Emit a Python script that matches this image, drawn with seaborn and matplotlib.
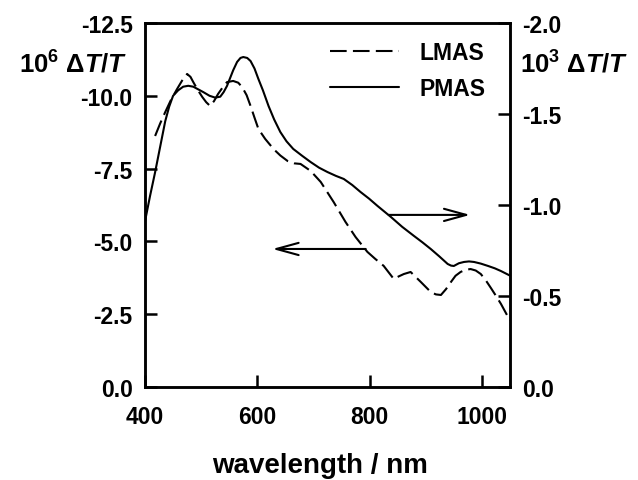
import matplotlib
matplotlib.use("Agg")
import matplotlib.pyplot as plt
import seaborn as sns
import pandas as pd
from matplotlib.lines import Line2D

# LMAS (dashed, left axis, 10^6 dT/T)
lmas_wl = [418, 427, 436, 446, 457, 466, 475, 481, 486, 494, 502, 509, 516, 523, 530,
           538, 546, 557, 566, 573, 581, 588, 595, 602, 614, 629, 641, 654, 666, 677,
           695, 713, 736, 757, 775, 796, 810, 825, 843, 852, 861, 873, 891, 909, 918,
           927, 936, 945, 953, 962, 971, 980, 989, 998, 1007, 1016, 1025, 1034, 1050]
lmas_val = [-8.62, -9.05, -9.44, -9.85, -10.23, -10.52, -10.75, -10.65, -10.47, -10.2,
            -9.96, -9.78, -9.65, -9.82, -10.06, -10.28, -10.47, -10.51, -10.45, -10.30,
            -10.02, -9.65, -9.25, -8.86, -8.52, -8.17, -7.95, -7.76, -7.68, -7.66, -7.42,
            -7.04, -6.35, -5.67, -5.15, -4.64, -4.40, -4.16, -3.71, -3.80, -3.88, -3.95,
            -3.61, -3.26, -3.18, -3.16, -3.36, -3.61, -3.82, -3.95, -4.03, -4.05, -4.00,
            -3.88, -3.66, -3.40, -3.13, -2.85, -2.28]

# PMAS (solid, right axis, 10^3 dT/T)
pmas_wl = [400, 409, 418, 427, 436, 443, 450, 459, 468, 477, 486, 495, 504, 515, 525,
           534, 540, 546, 557, 564, 570, 575, 582, 588, 595, 602, 610, 620, 630, 641,
           652, 664, 680, 695, 710, 725, 740, 754, 769, 784, 799, 814, 838, 858, 879,
           894, 909, 924, 939, 945, 950, 959, 968, 977, 986, 998, 1011, 1023, 1034, 1050]
pmas_val = [-0.91, -1.05, -1.18, -1.32, -1.46, -1.54, -1.60, -1.63, -1.65, -1.655, -1.65,
            -1.635, -1.62, -1.60, -1.59, -1.595, -1.62, -1.654, -1.74, -1.786, -1.808,
            -1.813, -1.808, -1.791, -1.75, -1.692, -1.63, -1.544, -1.47, -1.401, -1.35,
            -1.308, -1.27, -1.236, -1.205, -1.181, -1.16, -1.143, -1.11, -1.071, -1.035,
            -0.995, -0.934, -0.88, -0.83, -0.795, -0.758, -0.718, -0.676, -0.667, -0.665,
            -0.68, -0.687, -0.69, -0.687, -0.678, -0.665, -0.652, -0.637, -0.612]

x_ticks = [400, 600, 800, 1000]
left_ticks = [0.0, -2.5, -5.0, -7.5, -10.0, -12.5]
right_ticks = [0.0, -0.5, -1.0, -1.5, -2.0]

sns.set_style("ticks")
plt.rcParams["font.family"] = ["Liberation Sans", "DejaVu Sans"]
plt.rcParams["font.weight"] = "bold"
plt.rcParams["mathtext.fontset"] = "custom"
plt.rcParams["mathtext.rm"] = "Liberation Sans:bold"
plt.rcParams["mathtext.it"] = "Liberation Sans:italic:bold"
plt.rcParams["mathtext.bf"] = "Liberation Sans:bold"
for k in ["text.color", "axes.labelcolor", "xtick.color", "ytick.color", "axes.edgecolor"]:
    plt.rcParams[k] = "black"

df_l = pd.DataFrame({"wl": lmas_wl, "val": lmas_val})
df_p = pd.DataFrame({"wl": pmas_wl, "val": pmas_val})

fig = plt.figure(figsize=(6.38, 4.81), dpi=100)
ax = fig.add_axes([145 / 638, 1 - 388 / 481, 365 / 638, 364 / 481])
ax2 = ax.twinx()

lw = 1.5
sns.lineplot(data=df_l, x="wl", y="val", ax=ax, color="black", lw=lw, sort=False)
ax.lines[0].set_dashes((8, 3))
sns.lineplot(data=df_p, x="wl", y="val", ax=ax2, color="black", lw=lw, sort=False)

ax.set_xlim(400, 1050)
ax.set_ylim(0, -12.5)
ax2.set_ylim(0, -2.0)
ax.set_xticks(x_ticks)
ax.set_yticks(left_ticks)
ax2.set_yticks(right_ticks)
ax.set_xticklabels([str(t) for t in x_ticks])
ax.set_yticklabels([f"{t:.1f}" for t in left_ticks])
ax2.set_yticklabels([f"{t:.1f}" for t in right_ticks])

for a in (ax, ax2):
    for s in a.spines.values():
        s.set_linewidth(1.8)
        s.set_color("black")
    a.tick_params(direction="in", length=8.5, width=1.8, labelsize=16.5, pad=9,
                  colors="black")
    a.set_xlabel("")
    a.set_ylabel("")
ax.tick_params(axis="x", pad=13)

# axis titles, placed like the original figure
fig.text(320 / 638, 1 - 473 / 481, "wavelength / nm", ha="center", va="baseline",
         fontsize=20, fontweight="bold")
fig.text(127 / 638, 1 - 73 / 481, r"10$^{6}$ Δ$T$/$T$", ha="right", va="baseline",
         fontsize=18.5, fontweight="bold")
fig.text(520 / 638, 1 - 73 / 481, r"10$^{3}$ Δ$T$/$T$", ha="left", va="baseline",
         fontsize=18.5, fontweight="bold")

# arrows marking which axis each curve belongs to
ax.annotate("", xy=(979, -5.91), xytext=(834, -5.91),
            arrowprops=dict(arrowstyle="->,head_length=0.8,head_width=0.22", lw=1.5,
                            mutation_scale=20, color="black", shrinkA=0, shrinkB=0))
ax.annotate("", xy=(627, -4.74), xytext=(793, -4.74),
            arrowprops=dict(arrowstyle="->,head_length=0.8,head_width=0.22", lw=1.5,
                            mutation_scale=20, color="black", shrinkA=0, shrinkB=0))

handles = [Line2D([], [], color="black", lw=lw, dashes=(8, 3)),
           Line2D([], [], color="black", lw=lw)]
ax2.legend(handles, ["LMAS", "PMAS"], loc="upper right", bbox_to_anchor=(0.983, 1.0),
           frameon=False, fontsize=16.5, handlelength=3.0, handletextpad=0.9,
           labelspacing=0.55, borderaxespad=0.4)

fig.savefig("out.png", dpi=100)
